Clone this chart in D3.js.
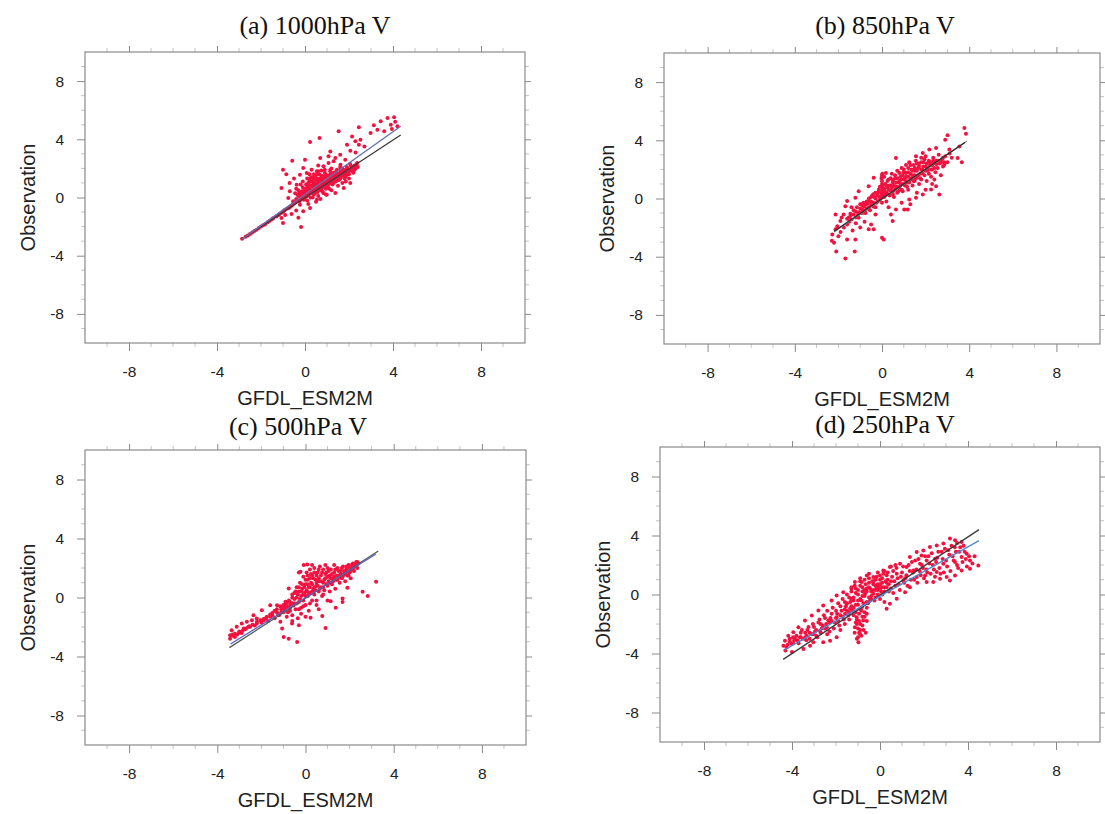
<!DOCTYPE html>
<html><head><meta charset="utf-8">
<script src="https://cdn.jsdelivr.net/npm/d3@7"></script>
<style>body{margin:0;background:#fff}svg{display:block}</style>
</head><body><svg id="chart" width="1105" height="814"></svg>
<script>
// ---------- data ----------
const titles = ["(a) 1000hPa V", "(b) 850hPa V", "(c) 500hPa V", "(d) 250hPa V"];
const xLabel = "GFDL_ESM2M";
const yLabel = "Observation";
const axisDomain = [-10, 10];
const tickValues = [-8, -4, 0, 4, 8];
const tickLabels = ["-8", "-4", "0", "4", "8"];
const minorTicks = [-9,-7,-6,-5,-3,-2,-1,1,2,3,5,6,7,9];

// points: [model, observation]
const pointsA = [
[-2.86,-2.83],[-2.6,-2.62],[-2.4,-2.4],[-2.2,-2.22],[-2.0,-2.0],[-1.8,-1.82],[-1.6,-1.6],[-1.45,-1.42],[-1.3,-1.3],[-1.15,-1.12],[-1.0,-0.98],[-0.9,-0.85],[-0.8,-0.75],[-0.7,-0.68],[-0.6,-0.55],
[-1.07,-1.41],[-1.0,-1.75],[-0.18,-2.03],[-0.61,-1.13],[-0.9,-1.2],[-0.4,-0.9],[-0.3,-1.4],
[-1.07,0.65],[-1.0,1.91],[-0.58,2.53],[0,2.6],[0.23,3.81],[0.66,4.09],[1.53,4.55],[-0.85,1.6],[-0.7,1.0],[-0.5,1.3],[-0.45,0.3],
[2.45,4.82],[3.13,4.96],[3.75,5.46],[4.05,5.51],[4.2,4.89],[3.9,5.0],[3.6,4.55],[3.29,4.66],[2.98,4.43],[3.44,5.24],[2.14,4.2],[2.29,3.86],[2.52,3.97],[2.45,3.63],[1.91,3.63],[2.06,3.22],[1.6,2.94],[1.15,3.17],[1.38,2.71],[1.83,2.6],[1.07,2.83],[0.69,2.71],[3.95,4.7],[4.1,5.2],[2.7,3.5],[2.3,3.1],
[-0.08,2.03],[-0.23,1.57],[0.08,1.68],[0.38,1.34],[0.54,1.8],[0.84,2.14],[1.07,2.37],[1.15,1.91],[1.3,2.49],[1.61,2.25],[-0.38,0.88],[-0.69,0.43],[-0.76,-0.03],[-0.54,-0.26],[-0.23,-0.49],[0.08,0.08],[0.31,0.43],[0.69,0.65],[0.99,0.88],[1.3,1.0],[1.61,1.34],[1.91,1.68],[2.22,2.03],[2.37,2.37],[0.23,-0.72],[-0.08,-0.95],[0.54,-0.15],[0.99,0.19],[1.38,0.31],[1.76,0.65],[2.06,1.0],
[-0.5,-0.3],[-0.4,-0.1],[-0.35,0.2],[-0.3,0.5],[-0.25,-0.25],[-0.2,0.1],[-0.15,0.4],[-0.1,0.7],[-0.1,-0.05],[-0.05,0.3],[0,0.0],[0,0.5],[0.05,0.9],[0.1,0.2],[0.1,-0.2],[0.15,0.6],[0.2,1.1],[0.2,0.35],[0.25,0.0],[0.3,0.8],[0.3,1.4],[0.35,0.5],[0.4,0.2],[0.4,1.0],[0.45,0.7],[0.5,1.2],[0.5,0.4],[0.55,1.6],[0.6,0.9],[0.6,0.1],[0.65,1.3],[0.7,0.5],[0.7,1.0],[0.75,1.5],[0.8,0.8],[0.8,1.2],[0.85,0.3],[0.9,1.0],[0.9,1.7],[0.95,0.6],[1.0,1.3],[1.0,0.9],[1.05,1.5],[1.1,1.1],[1.1,0.6],[1.15,1.8],[1.2,1.2],[1.25,0.9],[1.3,1.4],[1.35,1.6],[1.4,1.1],[1.45,1.9],[1.5,1.4],[1.55,1.2],[1.6,1.7],[1.65,1.5],[1.7,2.0],[1.75,1.6],[1.8,1.3],[1.85,1.9],[1.9,2.1],[1.95,1.6],[2.0,1.8],[2.05,2.3],[2.1,1.9],[2.15,2.1],[2.2,1.7],[2.25,2.2],[2.3,2.0],[2.35,2.3],[2.4,2.1],[0.3,1.9],[0.6,2.2],[0.2,1.6],[0.45,1.45],[0.75,1.85],[1.2,2.0],[-0.2,0.9],[-0.4,0.6],[0.15,-0.45],[0.5,-0.3],[0.7,-0.1],[0.95,0.2],[1.2,0.5],[1.5,0.8],[1.7,1.0],[2.0,1.3],[1.85,1.1],[0.35,1.15],[0.55,0.65],[0.85,1.45],[1.25,1.55],[1.6,2.1]
];
const coreA = [
[-2.7,-2.7],[-2.5,-2.5],[-2.3,-2.3],[-2.1,-2.1],[-1.9,-1.9],[-1.7,-1.7],[-1.5,-1.5],[-1.2,-1.2],[-1.05,-1.05],[-0.95,-0.9],[-0.75,-0.7],[-0.65,-0.6],
[-0.55,-0.45],[-0.45,-0.35],[-0.35,-0.2],[-0.3,0.1],[-0.25,0.3],[-0.2,-0.1],[-0.15,0.15],[-0.1,0.45],[-0.05,-0.15],[0.0,0.25],[0.05,0.6],[0.05,0.1],[0.1,0.4],[0.1,0.8],[0.15,0.2],[0.15,1.0],[0.2,0.6],[0.25,0.3],[0.25,0.85],[0.3,0.5],[0.3,1.1],[0.35,0.75],[0.35,0.0],[0.4,0.5],[0.4,1.3],[0.45,0.9],[0.45,0.3],[0.5,0.65],[0.5,1.0],[0.55,0.35],[0.55,1.3],[0.6,0.7],[0.6,1.1],[0.65,0.5],[0.65,1.6],[0.7,0.8],[0.7,1.25],[0.75,0.6],[0.75,1.05],[0.8,1.4],[0.8,0.4],[0.85,0.9],[0.85,1.2],[0.9,0.7],[0.9,1.35],[0.95,1.0],[0.95,1.55],[1.0,0.7],[1.0,1.1],[1.05,1.3],[1.05,0.8],[1.1,1.4],[1.1,0.95],[1.15,1.2],[1.15,1.6],[1.2,1.0],[1.2,1.45],[1.25,1.25],[1.3,1.7],[1.3,1.15],[1.35,1.4],[1.4,1.3],[1.4,1.75],[1.45,1.5],[1.5,1.2],[1.5,1.65],[1.55,1.45],[1.6,1.9],[1.6,1.3],[1.65,1.7],[1.7,1.5],[1.75,1.85],[1.8,1.65],[1.85,1.45],[1.9,1.8],[1.95,2.0],[2.0,1.6],[2.05,1.9],[2.1,2.15],[2.15,1.8],[2.2,2.0],[2.25,1.9],[2.3,2.2],[2.35,2.1],[0.2,1.3],[0.4,1.6],[0.1,1.3],[-0.1,1.1],[0.6,1.8],[0.9,1.9]
];
const pointsB = [
[3.78,4.84],[3.85,4.45],[3.01,4.34],[2.9,4.04],[3.55,3.58],[3.47,2.79],[3.66,2.49],[3.09,3.36],[2.48,3.47],[2.17,3.36],[1.87,3.13],[1.56,2.9],[0.64,2.79],[0.18,1.76],[0,1.64],[-0.38,1.42],[-0.61,0.84],[-1.07,0.5],[-1.22,0.05],[-1.6,-0.18],[-1.68,-0.53],[-2.13,-1.1],[-1.76,-1.1],[-1.53,-1.32],[-1.91,-1.55],[-1.6,-1.78],[-2.13,-2.12],[-2.28,-2.47],[-2.2,-3.04],[-2.1,-3.65],[-1.6,-2.81],[-1.22,-2.81],[-1.68,-4.13],[-1.25,-3.65],[-0.61,-2.12],[-0.38,-2.12],[0,-2.69],[0.08,-2.81],[-0.5,-1.78],[-1.07,-1.32],[-0.84,-0.98],[-0.3,-1.1],[0.41,-1.1],[0.49,-1.55],[0.64,-0.75],[1.02,-0.75],[1.18,-0.75],[1.25,-0.07],[1.56,0.05],[1.87,0.27],[2.25,0.62],[2.48,0.84],[2.63,0.27],[2.4,1.3],[2.86,2.33],[2.25,2.45],
[-2.3,-2.9],[-2.05,-1.9],[-1.9,-2.3],[-1.85,-1.3],[-1.45,-1.05],[-1.4,-0.6],[-1.35,-2.2],[-1.2,-1.7],[-1.0,-2.0],[-0.95,-0.4],[-0.8,-1.6],[-0.7,-0.2],[-2.0,-2.6],[-1.75,-2.0],
[-1.2,-0.9],[-1.1,-1.1],[-1.0,-0.7],[-0.95,-1.0],[-0.9,-0.5],[-0.8,-0.85],[-0.75,-0.4],[-0.7,-0.7],[-0.6,-0.2],[-0.6,-0.6],[-0.5,-0.45],[-0.5,0.1],[-0.4,-0.3],[-0.4,0.3],[-0.3,0.0],[-0.3,-0.6],[-0.2,0.4],[-0.2,-0.2],[-0.1,0.8],[-0.1,0.1],[0,0.3],[0,1.2],[0,-0.3],[0.05,0.7],[0.1,0.1],[0.1,1.5],[0.15,0.45],[0.2,0.9],[0.2,-0.2],[0.3,0.6],[0.3,1.3],[0.35,0.2],[0.4,0.9],[0.45,1.7],[0.5,0.5],[0.5,1.1],[0.55,0.1],[0.6,1.4],[0.65,0.8],[0.7,1.9],[0.7,0.4],[0.75,1.1],[0.8,0.7],[0.85,1.5],[0.9,2.1],[0.9,1.0],[0.95,0.5],[1.0,1.3],[1.0,1.8],[1.05,0.9],[1.1,2.3],[1.1,1.5],[1.15,1.1],[1.2,0.6],[1.2,1.8],[1.25,2.5],[1.3,1.3],[1.35,2.0],[1.4,0.9],[1.4,1.6],[1.45,2.3],[1.5,1.2],[1.5,1.9],[1.55,2.6],[1.6,1.5],[1.65,2.1],[1.7,1.0],[1.7,2.4],[1.75,1.7],[1.8,2.8],[1.8,1.3],[1.85,2.0],[1.9,2.5],[1.95,1.6],[2.0,2.2],[2.0,2.9],[2.05,1.2],[2.1,1.9],[2.15,2.6],[2.2,2.3],[2.25,1.5],[2.3,2.0],[2.35,2.8],[2.4,2.4],[2.45,1.8],[2.5,2.6],[2.55,2.1],[2.6,3.0],[2.65,2.4],[2.7,1.6],[2.75,2.7],[2.8,2.2],[2.9,2.9],[3.0,2.5],[3.1,3.1],[3.2,2.8],
[0.0,0.6],[0.02,0.9],[-0.02,1.4],[0.03,0.4],[1.3,-0.4],[2.0,0.6],[2.3,1.0],[1.6,0.4],[0.9,-0.3],[0.3,-0.6]
];
const coreB = [
[-1.6,-1.4],[-1.5,-1.6],[-1.45,-1.2],[-1.4,-1.45],[-1.3,-1.1],[-1.3,-0.8],[-1.2,-1.3],[-1.15,-0.6],[-1.05,-0.95],[-1.0,-0.4],[-0.9,-0.75],[-0.85,-0.3],[-0.8,-0.55],[-0.75,-1.0],[-0.65,-0.35],[-0.6,0.0],[-0.55,-0.8],[-0.5,-0.2],[-0.45,0.2],[-0.4,-0.55],[-0.35,0.1],[-0.3,0.4],[-0.25,-0.3],[-0.2,0.2],[-0.15,0.6],[-0.1,-0.1],[-0.05,0.4],[0.0,0.1],[0.0,0.8],[0.0,1.0],[0.0,1.5],[0.02,1.7],[0.05,0.3],[0.1,0.65],[0.15,0.2],[0.15,1.0],[0.2,0.4],[0.25,0.75],[0.25,1.2],[0.3,0.3],[0.35,0.9],[0.4,0.55],[0.4,1.4],[0.45,0.75],[0.5,0.3],[0.5,1.25],[0.55,0.9],[0.6,0.6],[0.6,1.6],[0.65,1.1],[0.7,0.8],[0.7,1.4],[0.75,0.5],[0.8,1.2],[0.8,1.75],[0.85,0.9],[0.9,1.3],[0.9,0.6],[0.95,1.6],[1.0,1.0],[1.0,2.0],[1.05,1.4],[1.1,1.2],[1.1,1.75],[1.15,0.8],[1.2,1.5],[1.2,2.1],[1.25,1.1],[1.3,1.7],[1.3,2.3],[1.35,1.4],[1.4,1.9],[1.45,1.2],[1.5,2.1],[1.5,1.6],[1.55,1.4],[1.6,1.9],[1.6,2.4],[1.65,1.6],[1.7,2.2],[1.75,1.4],[1.8,2.0],[1.8,2.5],[1.85,1.75],[1.9,2.2],[1.95,2.7],[2.0,1.9],[2.05,2.4],[2.1,2.1],[2.15,1.7],[2.2,2.5],[2.25,2.0],[2.3,2.3],[2.35,2.6],[2.4,2.1],[2.5,2.35],[2.6,2.6],[2.7,2.5],[2.8,2.8],[2.85,2.5]
];
const pointsC = [
[3.2,1.07],[2.82,0.11],[2.59,0.39],[1.9,0.66],[1.68,-0.07],[1.68,-0.3],[1.37,-0.7],[1.14,-0.25],[0.76,-1.25],[0.91,-2.06],[0.23,-1.38],[-0.3,-1.88],[-0.38,-3.01],[-0.76,-2.79],[-0.99,-2.67],[-1.06,-2.11],[-1.14,-1.65],[-0.61,-1.77],[-0.08,2.2],[0.08,2.24],[-0.23,1.75],[-0.76,0.61],[-0.91,-0.29],[-1.29,-0.52],[-1.6,-0.52],[-1.98,-0.86],[-2.36,-1.2],[-2.66,-1.65],[-2.89,-1.77],[-3.12,-1.99],[-3.35,-2.22],[-3.42,-2.56],[-3.42,-2.79],[-3.2,-2.67],[-2.97,-2.38],[-2.74,-2.16],[-2.51,-1.99],[-2.21,-1.77],[-1.9,-1.54],[-1.6,-1.31],[-2.21,-1.43],[-2.43,-1.54],
[-3.3,-2.6],[-3.1,-2.5],[-3.0,-2.3],[-2.9,-2.4],[-2.8,-2.1],[-2.6,-2.0],[-2.3,-1.9],[-2.0,-1.7],[-1.8,-1.4],[-1.7,-1.6],[-1.5,-1.2],[-1.4,-1.4],[-1.3,-1.0],[-1.2,-1.2],
[-1.1,-0.8],[-1.0,-1.0],[-1.0,-0.5],[-0.9,-0.7],[-0.85,-1.3],[-0.8,-0.3],[-0.7,-0.9],[-0.7,-0.5],[-0.6,0.0],[-0.6,-1.2],[-0.5,-0.4],[-0.5,0.3],[-0.45,-0.8],[-0.4,0.0],[-0.4,0.7],[-0.35,-1.4],[-0.3,-0.3],[-0.3,0.4],[-0.25,1.0],[-0.2,0.1],[-0.2,-0.7],[-0.15,0.6],[-0.1,1.4],[-0.1,-0.2],[-0.05,0.3],[0,0.9],[0,-0.5],[0.05,1.7],[0.05,0.5],[0.1,0.1],[0.1,1.2],[0.15,-0.9],[0.15,0.7],[0.2,1.9],[0.2,0.3],[0.25,1.0],[0.3,-0.2],[0.3,1.5],[0.35,0.6],[0.4,2.0],[0.4,0.2],[0.45,1.2],[0.5,0.8],[0.5,-0.5],[0.55,1.7],[0.6,0.4],[0.6,1.1],[0.65,2.1],[0.7,0.7],[0.7,1.5],[0.75,0.1],[0.8,1.0],[0.8,1.9],[0.85,0.5],[0.9,1.3],[0.95,1.7],[1.0,0.8],[1.0,2.0],[1.05,1.1],[1.1,0.4],[1.1,1.5],[1.15,1.9],[1.2,0.9],[1.25,1.3],[1.3,1.7],[1.35,0.6],[1.4,1.2],[1.45,2.0],[1.5,1.5],[1.55,1.0],[1.6,1.8],[1.65,1.3],[1.7,2.1],[1.75,1.6],[1.8,1.1],[1.85,1.9],[1.9,1.5],[1.95,2.2],[2.0,1.7],[2.05,1.3],[2.1,2.0],[2.15,2.3],[2.2,1.8],[2.25,2.1],[2.3,2.4],[2.35,2.0],[2.4,2.3],[1.0,-0.2],[0.6,-0.8],[-0.2,-1.1],[0.0,-1.3],[-0.6,-1.6],[0.3,2.2],[-0.3,1.7],[0.9,2.2],[1.3,2.2]
];
const coreC = [
[-3.3,-2.5],[-3.2,-2.45],[-3.0,-2.35],[-2.85,-2.25],[-2.7,-2.1],[-2.55,-1.95],[-2.4,-1.85],[-2.2,-1.65],[-2.05,-1.55],[-1.9,-1.45],[-1.75,-1.3],[-1.6,-1.15],[-1.5,-1.05],[-1.4,-0.9],[-1.3,-0.8],[-1.25,-1.1],[-1.15,-0.6],[-1.1,-1.0],[-1.05,-0.7],[-0.95,-0.85],[-0.9,-0.45],[-0.85,-0.6],[-0.8,-1.0],[-0.75,-0.2],[-0.7,-0.7],[-0.65,-0.35],[-0.6,0.2],[-0.55,-0.55],[-0.5,-0.1],[-0.45,0.4],[-0.4,-0.4],[-0.35,0.2],[-0.3,0.7],[-0.25,-0.1],[-0.2,0.4],[-0.15,0.9],[-0.1,0.2],[-0.05,0.7],[0.0,1.2],[0.0,0.1],[0.05,0.4],[0.1,0.9],[0.1,1.5],[0.15,0.3],[0.2,0.7],[0.2,1.3],[0.25,1.6],[0.3,0.4],[0.3,0.9],[0.35,1.3],[0.4,0.7],[0.4,1.7],[0.45,0.5],[0.5,1.0],[0.5,1.5],[0.55,0.8],[0.6,1.3],[0.6,1.9],[0.65,0.6],[0.7,1.1],[0.75,1.7],[0.8,0.7],[0.85,1.2],[0.9,1.6],[0.95,0.9],[1.0,1.4],[1.05,1.8],[1.1,1.0],[1.15,1.3],[1.2,1.6],[1.25,1.1],[1.3,1.4],[1.35,1.9],[1.4,1.5],[1.45,1.2],[1.5,1.8],[1.55,1.35],[1.6,1.6],[1.65,2.0],[1.7,1.45],[1.75,1.8],[1.8,1.6],[1.85,2.1],[1.9,1.75],[1.95,1.5],[2.0,2.0],[2.05,1.8],[2.1,2.2],[2.15,1.95],[2.2,2.1],[2.25,2.25],[2.3,2.15],[2.35,2.4],[-0.3,-0.8],[-0.1,-0.6],[0.2,-0.4],[0.5,-0.2],[0.8,0.2]
];
const pointsD = [
[3.18,3.79],[3.41,3.67],[3.71,3.56],[2.88,3.45],[2.58,3.33],[2.27,3.22],[1.97,2.99],[1.67,2.88],[3.94,2.77],[4.09,2.31],[4.47,1.97],[4.09,1.75],[3.71,1.63],[3.41,1.29],[3.03,1.18],[3.18,0.95],[2.73,1.07],[2.42,0.84],[2.12,0.84],[2.05,1.29],[2.58,1.52],[2.88,2.09],[3.41,2.2],[3.71,2.54],[2.5,2.43],[2.12,2.31],[1.82,2.09],[1.52,1.63],[1.21,1.86],[0.91,2.09],[0.76,1.41],[1.06,0.95],[1.36,0.5],[1.14,0.16],[0.76,-0.29],[0.45,-0.63],[0.3,-0.97],[1.67,1.18],[1.89,2.65],[1.36,2.54],[0.45,1.86],[0.15,1.63],[0,1.29],[-0.3,1.18],[-0.6,1.29],[-0.83,0.84],[-1.14,0.84],[-1.29,0.5],[-1.67,0.16],[-1.97,-0.07],[-2.2,-0.41],[-2.58,-0.75],[-2.8,-1.09],[-3.1,-1.43],[-3.41,-1.77],[-3.71,-2.22],[-3.94,-2.56],[-4.17,-2.79],[-4.32,-3.13],[-4.39,-3.47],[-4.24,-3.58],[-4.01,-3.36],[-3.86,-3.02],[-3.64,-2.9],[-3.33,-2.79],[-3.03,-2.68],[-2.73,-2.45],[-2.42,-2.22],[-2.35,-1.77],[-1.97,-1.54],[-1.59,-1.31],[-1.36,-0.97],[-1.97,-2.9],[-2.27,-3.13],[-2.58,-3.24],[-3.18,-3.47],[-3.48,-3.69],[-3.03,-3.24],
[-0.98,-3.24],[-0.91,-2.68],[-1.14,-2.22],[-0.76,-1.77],[-0.6,-1.31],[-1.06,-1.54],[-0.83,-0.86],[-0.45,-0.41],[-0.3,0.05],[-0.15,0.5],[-0.68,0.05],[-1.21,-0.41],[-1.52,-0.63],
[-1.0,-2.9],[-0.9,-2.4],[-1.05,-2.0],[-0.8,-2.1],[-0.95,-1.8],[-0.7,-1.5],[-1.1,-1.2],[-0.85,-1.1],[-0.6,-0.9],[-0.75,-0.6],[-0.5,-0.2],[-1.0,-0.7],[-0.9,-0.3],[-0.65,-2.6],[-1.15,-2.6],
[-3.9,-3.1],[-3.7,-3.3],[-3.6,-2.6],[-3.5,-3.0],[-3.3,-2.4],[-3.2,-3.0],[-3.0,-2.2],[-2.9,-2.8],[-2.8,-1.9],[-2.7,-2.6],[-2.6,-2.1],[-2.5,-1.6],[-2.4,-2.7],[-2.3,-1.9],[-2.2,-1.3],[-2.1,-2.3],[-2.0,-1.1],[-1.9,-1.8],[-1.8,-0.8],[-1.8,-2.4],[-1.7,-1.5],[-1.6,-0.5],[-1.6,-2.0],[-1.5,-1.1],[-1.4,-0.2],[-1.4,-1.7],[-1.3,-0.8],[-1.3,0.2],[-1.2,-1.4],[-1.1,0.4],[-1.0,0.0],[-0.9,0.6],[-0.8,0.2],[-0.7,1.0],[-0.6,0.4],[-0.5,0.8],[-0.4,0.2],[-0.3,0.7],[-0.2,1.0],[-0.1,0.3],[0.0,0.7],[0.1,1.1],[0.1,0.0],[0.2,0.5],[0.3,1.3],[0.4,0.2],[0.5,0.9],[0.6,1.6],[0.6,0.1],[0.7,0.6],[0.8,1.1],[0.9,0.3],[1.0,1.5],[1.1,0.8],[1.2,1.3],[1.3,2.0],[1.4,1.0],[1.5,1.5],[1.6,2.3],[1.7,0.8],[1.8,1.6],[1.9,2.0],[2.0,1.1],[2.1,1.7],[2.2,2.6],[2.3,1.4],[2.4,2.0],[2.5,1.2],[2.6,2.5],[2.7,1.8],[2.8,2.9],[2.9,1.5],[3.0,2.3],[3.1,3.0],[3.2,1.6],[3.3,2.6],[3.4,3.2],[3.5,2.0],[3.6,2.9],[3.8,3.3],[3.9,2.4],[4.2,2.1],[4.3,2.6],[3.5,3.5],[-3.95,-2.9],[-4.1,-3.2],[-4.3,-3.8],[-4.0,-3.9],
[0.2,1.6],[0.5,1.9],[0.7,2.0],[-0.1,1.5],[-0.5,1.4],[-0.9,1.1],[0.35,1.0],[0.0,-0.3],[-0.2,-0.2],[0.2,-0.5]
];
const coreD = [
[-4.2,-3.4],[-4.1,-3.0],[-3.95,-3.3],[-3.8,-2.8],[-3.75,-3.1],[-3.6,-2.9],[-3.55,-2.4],[-3.4,-2.6],[-3.35,-3.1],[-3.25,-2.2],[-3.1,-2.7],[-3.05,-2.0],[-2.95,-2.5],[-2.85,-2.9],[-2.75,-1.7],[-2.65,-2.3],[-2.55,-1.4],[-2.45,-2.0],[-2.4,-1.1],[-2.3,-2.5],[-2.25,-1.6],[-2.15,-0.9],[-2.05,-1.9],[-1.95,-1.3],[-1.9,-0.6],[-1.85,-2.1],[-1.75,-1.1],[-1.7,-0.3],[-1.65,-1.7],[-1.55,-0.8],[-1.5,0.0],[-1.45,-1.4],[-1.35,-0.5],[-1.3,0.4],[-1.25,-1.1],[-1.2,-0.2],[-1.15,0.6],[-1.1,-0.7],[-1.05,-1.7],[-1.0,-2.3],[-1.0,0.3],[-0.95,-1.3],[-0.9,-2.0],[-0.9,0.9],[-0.85,-0.4],[-0.85,-2.8],[-0.8,-1.5],[-0.8,0.5],[-0.75,-2.4],[-0.7,-0.1],[-0.7,-1.2],[-0.65,0.7],[-0.6,-1.8],[-0.6,0.2],[-0.55,-0.6],[-0.5,1.1],[-0.45,0.4],[-0.4,-0.1],[-0.35,0.9],[-0.3,0.3],[-0.25,-0.4],[-0.2,0.6],[-0.15,1.2],[-0.1,0.0],[-0.05,0.5],[0.0,1.0],[0.05,0.2],[0.1,0.8],[0.15,1.4],[0.2,0.2],[0.25,0.9],[0.3,0.5],[0.35,1.5],[0.4,0.7],[0.5,0.4],[0.55,1.2],[0.65,0.9],[0.75,1.8],[0.85,0.7],[0.95,1.2],[1.05,1.9],[1.15,1.1],[1.25,0.6],[1.35,1.6],[1.45,2.2],[1.55,1.0],[1.65,1.7],[1.75,2.4],[1.85,1.3],[1.95,1.8],[2.05,2.6],[2.15,1.5],[2.25,2.1],[2.35,2.8],[2.45,1.7],[2.55,2.2],[2.65,2.9],[2.75,1.4],[2.85,2.4],[2.95,3.1],[3.05,1.9],[3.15,2.7],[3.25,3.3],[3.35,2.3],[3.45,2.9],[3.55,1.8],[3.65,3.2],[3.75,2.2],[3.85,2.9],[3.95,1.9],[4.05,2.6],
[-1.8,-1.4],[-1.6,-1.0],[-1.5,-0.6],[-1.4,-1.2],[-1.3,-0.3],[-1.2,-0.9],[-1.1,0.1],[-1.0,-0.4],[-0.9,-1.0],[-0.8,-0.1],[-0.7,0.3],[-0.6,-0.5],[-0.5,0.5],[-0.4,-0.3],[-0.3,0.9],[-0.2,0.3],[-0.1,0.7],[0.0,0.4],[0.1,0.5],[0.3,0.8],[-2.0,-1.6],[-2.2,-1.8],[-2.5,-2.3],[-2.7,-2.0],[-2.9,-2.4],[-3.2,-2.6],[-3.4,-2.9],[-1.1,-1.9],[-0.95,-2.6],[-1.05,-3.0]
];

// fitted / reference lines: [[x0,y0],[x1,y1]]
const linesA = [[[-2.85,-2.85],[4.35,4.3]], [[-2.85,-2.85],[4.35,4.9]]];
const linesB = [[[-2.2,-2.3],[3.9,3.95]], [[-2.2,-2.25],[3.8,3.85]]];
const linesC = [[[-3.45,-3.4],[3.3,3.15]], [[-3.4,-3.15],[3.2,2.95]]];
const linesD = [[[-4.4,-4.4],[4.5,4.4]], [[-4.35,-3.75],[4.5,3.65]]];

// ---------- layout / style ----------
const panels = [
  {pts: pointsA.concat(coreA), lines: linesA, left: 85,  top: 52,  w: 440, h: 291, tx: 315, ty: 34, lc: ["#3a3a3a", "#6470b0"]},
  {pts: pointsB.concat(coreB), lines: linesB, left: 664, top: 53,  w: 436, h: 291, tx: 885, ty: 34, lc: ["#7d8c84", "#2a2a2a"]},
  {pts: pointsC.concat(coreC), lines: linesC, left: 85,  top: 450, w: 441, h: 295, tx: 298, ty: 435, lc: ["#4f6050", "#5a5fc0"]},
  {pts: pointsD.concat(coreD), lines: linesD, left: 660, top: 447, w: 440, h: 295, tx: 885, ty: 433, lc: ["#3a3a3a", "#4a8ad0"]}
];

const svg = d3.select("#chart");
svg.append("rect").attr("width", 1105).attr("height", 814).attr("fill", "#fff");

panels.forEach((p, i) => {
  const x = d3.scaleLinear().domain(axisDomain).range([0, p.w]);
  const y = d3.scaleLinear().domain(axisDomain).range([p.h, 0]);
  const g = svg.append("g").attr("transform", `translate(${p.left},${p.top})`);
  const fmt = (d) => tickLabels[tickValues.indexOf(d)];

  const styleAxis = (sel) => {
    sel.select(".domain").remove();
    sel.selectAll(".tick line").attr("stroke", "#8a8a8a");
    sel.selectAll(".tick text").attr("fill", "#222")
       .style("font-family", "'Liberation Sans', Arial, sans-serif").style("font-size", "15.5px");
  };

  // minor ticks
  const minorLen = 4, mc = "#c4c4c4";
  minorTicks.forEach(v => {
    g.append("line").attr("x1", x(v)).attr("x2", x(v)).attr("y1", p.h).attr("y2", p.h + minorLen).attr("stroke", mc);
    g.append("line").attr("x1", x(v)).attr("x2", x(v)).attr("y1", 0).attr("y2", -minorLen).attr("stroke", mc);
    g.append("line").attr("y1", y(v)).attr("y2", y(v)).attr("x1", 0).attr("x2", -minorLen).attr("stroke", mc);
    g.append("line").attr("y1", y(v)).attr("y2", y(v)).attr("x1", p.w).attr("x2", p.w + minorLen).attr("stroke", mc);
  });

  g.append("g").attr("transform", `translate(0,${p.h})`)
    .call(d3.axisBottom(x).tickValues(tickValues).tickSize(8).tickPadding(15).tickFormat(fmt)).call(styleAxis);
  g.append("g")
    .call(d3.axisLeft(y).tickValues(tickValues).tickSize(8).tickPadding(13).tickFormat(fmt)).call(styleAxis);
  g.append("g")
    .call(d3.axisTop(x).tickValues(tickValues).tickSize(6).tickFormat("")).call(styleAxis);
  g.append("g").attr("transform", `translate(${p.w},0)`)
    .call(d3.axisRight(y).tickValues(tickValues).tickSize(6).tickFormat("")).call(styleAxis);

  // frame
  g.append("rect").attr("width", p.w).attr("height", p.h)
    .attr("fill", "none").attr("stroke", "#8a8a8a").attr("stroke-width", 1.2);

  // scatter
  g.append("g").selectAll("circle").data(p.pts).join("circle")
    .attr("cx", d => x(d[0])).attr("cy", d => y(d[1])).attr("r", 2.0)
    .attr("fill", "#f2123f");

  // lines
  const line = d3.line().x(d => x(d[0])).y(d => y(d[1]));
  p.lines.forEach((l, k) => {
    g.append("path").attr("d", line(l)).attr("fill", "none")
      .attr("stroke", p.lc[k]).attr("stroke-width", 1.3);
  });

  // labels
  svg.append("text").attr("x", p.tx).attr("y", p.ty).attr("text-anchor", "middle")
    .style("font-family", "'Liberation Serif', 'Times New Roman', serif").style("font-size", "26px")
    .attr("fill", "#111").text(titles[i]);
  svg.append("text").attr("x", p.left + p.w / 2).attr("y", p.top + p.h + 62).attr("text-anchor", "middle")
    .style("font-family", "'Liberation Sans', Arial, sans-serif").style("font-size", "20px")
    .attr("fill", "#222").text(xLabel);
  svg.append("text").attr("transform", `translate(${p.left - 57},${p.top + p.h / 2}) rotate(-90)`)
    .attr("text-anchor", "middle").attr("dominant-baseline", "central")
    .style("font-family", "'Liberation Sans', Arial, sans-serif").style("font-size", "20px")
    .attr("fill", "#222").text(yLabel);
});
</script></body></html>
